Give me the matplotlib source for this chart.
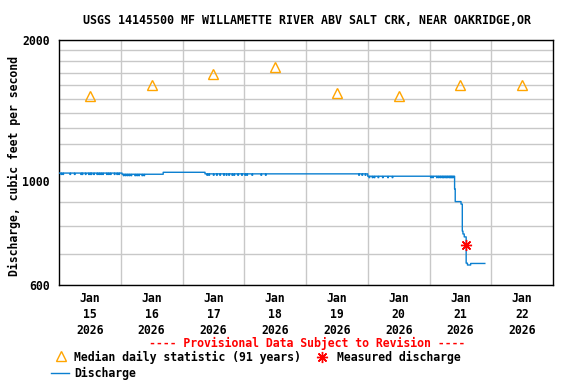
import matplotlib
matplotlib.use('Agg')
import matplotlib.pyplot as plt
import matplotlib.dates as mdates
from matplotlib.lines import Line2D
from matplotlib.ticker import FixedLocator, NullFormatter
import numpy as np
from datetime import datetime, timedelta

# --- data ---------------------------------------------------------------
start = datetime(2026, 1, 15)

# discharge, step changes (hours after Jan 15 00:00, cfs)
step_hours = [0.0, 24.4, 40.5, 56.7, 120.0, 153.6, 153.9, 156.2, 156.6,
              157.0, 157.4, 158.1, 158.6, 160.0]
step_cfs = [1040, 1034, 1044, 1036, 1024, 962, 904, 893, 782,
            771, 760, 668, 662, 667]
end_hour = 165.5

# short 15-minute dips of the gauge reading (hours)
dip_hours = [0.75, 1.5, 4.25, 6.0, 8.5, 9.0, 10.25, 11.5, 12.0, 12.5, 13.5,
             14.75, 15.5, 16.25, 17.0, 18.5, 19.25, 20.0, 21.5, 22.5, 23.25,
             25.0, 25.75, 26.5, 27.25, 28.0, 29.5, 30.25, 31.0, 32.25, 33.0,
             57.5, 58.25, 60.0, 61.25, 62.5, 64.0, 65.0, 66.0, 67.25, 68.0,
             69.5, 71.0, 72.25, 73.0, 75.0, 78.5, 80.25,
             116.5, 117.75, 119.0, 120.5, 121.75, 122.5, 124.0, 125.75,
             127.75, 129.5,
             144.5, 145.25, 146.75, 147.5, 148.25, 149.0, 149.5, 150.25,
             150.75, 151.5, 152.0, 152.5, 153.0]
dip_size = 7

# median daily statistic (91 years), at noon
median_days = [0, 1, 2, 3, 4, 5, 6, 7]
median_cfs = [1520, 1600, 1690, 1750, 1540, 1520, 1600, 1600]

# measured discharge
meas_hour = 158.3
meas_cfs = 729

# --- build 15-minute series ------------------------------------------------
t_h = np.arange(0, end_hour + 0.001, 0.25)
idx = np.searchsorted(step_hours, t_h, side='right') - 1
q = np.array(step_cfs, dtype=float)[idx]
for d in dip_hours:
    q[np.isclose(t_h, d)] -= dip_size
times = [start + timedelta(hours=float(h)) for h in t_h]

plt.rcParams['font.family'] = 'DejaVu Sans Mono'
plt.rcParams['font.weight'] = 'bold'
fs = 8.3

fig = plt.figure(figsize=(5.76, 3.84), dpi=100)
ax = fig.add_axes([59/576, 1-285/384, (553-59)/576, (285-40)/384])

ax.plot(times, q, color='#0a7fd0', linewidth=1.0, drawstyle='steps-post', zorder=3)
ax.plot([start + timedelta(days=d, hours=12) for d in median_days], median_cfs,
        linestyle='none', marker='^', markersize=7, markerfacecolor='none',
        markeredgecolor='#ffa500', markeredgewidth=1.0, zorder=4)
ax.plot([start + timedelta(hours=meas_hour)], [meas_cfs], linestyle='none',
        marker=(8, 2, 0), markersize=8, markeredgecolor='red',
        markeredgewidth=1.0, zorder=5)

ax.set_yscale('log')
ax.set_ylim(600, 2000)
ax.yaxis.set_major_locator(FixedLocator([600, 1000, 2000]))
ax.yaxis.set_major_formatter(plt.FuncFormatter(lambda v, p: '%d' % v))
ax.yaxis.set_minor_locator(FixedLocator([700, 800, 900, 1100, 1200, 1300, 1400,
                                         1500, 1600, 1700, 1800, 1900]))
ax.yaxis.set_minor_formatter(NullFormatter())

ax.set_xlim(start, start + timedelta(days=8))
ax.set_xticks([start + timedelta(days=d, hours=12) for d in range(8)])
ax.set_xticklabels(['Jan\n%d\n2026' % (15 + d) for d in range(8)],
                   linespacing=1.3)
ax.xaxis.set_minor_locator(FixedLocator(
    [mdates.date2num(start + timedelta(days=d)) for d in range(1, 8)]))

ax.grid(False)
ax.grid(True, axis='x', which='minor', color='#c8c8c8', linewidth=1.0)
ax.grid(True, axis='y', which='both', color='#c8c8c8', linewidth=1.0)
ax.set_axisbelow(True)
ax.tick_params(which='both', length=0)
ax.tick_params(axis='y', pad=6.5, labelsize=fs)
ax.tick_params(axis='x', pad=5, labelsize=fs)
for s in ax.spines.values():
    s.set_linewidth(1.0)
    s.set_color('black')

fig.text(307/576, 1-21/384, 'USGS 14145500 MF WILLAMETTE RIVER ABV SALT CRK, NEAR OAKRIDGE,OR',
         ha='center', va='center', fontsize=fs + 0.1)
fig.text(14/576, 1-166/384, 'Discharge, cubic feet per second', rotation=90,
         ha='center', va='center', fontsize=fs)
fig.text(307/576, 1-343/384, '---- Provisional Data Subject to Revision ----',
         ha='center', va='center', fontsize=fs, color='red')

# legend drawn by hand
fig.add_artist(Line2D([61/576], [1-356/384], marker='^', markersize=7,
                      markerfacecolor='none', markeredgecolor='#ffa500',
                      markeredgewidth=1.0, transform=fig.transFigure))
fig.text(74/576, 1-357/384, 'Median daily statistic (91 years)',
         ha='left', va='center', fontsize=fs)
fig.add_artist(Line2D([322/576], [1-357/384], marker=(8, 2, 0), markersize=8,
                      markeredgecolor='red', markeredgewidth=1.0,
                      transform=fig.transFigure))
fig.text(337/576, 1-357/384, 'Measured discharge',
         ha='left', va='center', fontsize=fs)
fig.add_artist(Line2D([51/576, 69/576], [1-372.5/384, 1-372.5/384],
                      color='#0a7fd0', linewidth=1.0, transform=fig.transFigure))
fig.text(74/576, 1-373/384, 'Discharge', ha='left', va='center', fontsize=fs)

fig.savefig('out.png', dpi=100)
